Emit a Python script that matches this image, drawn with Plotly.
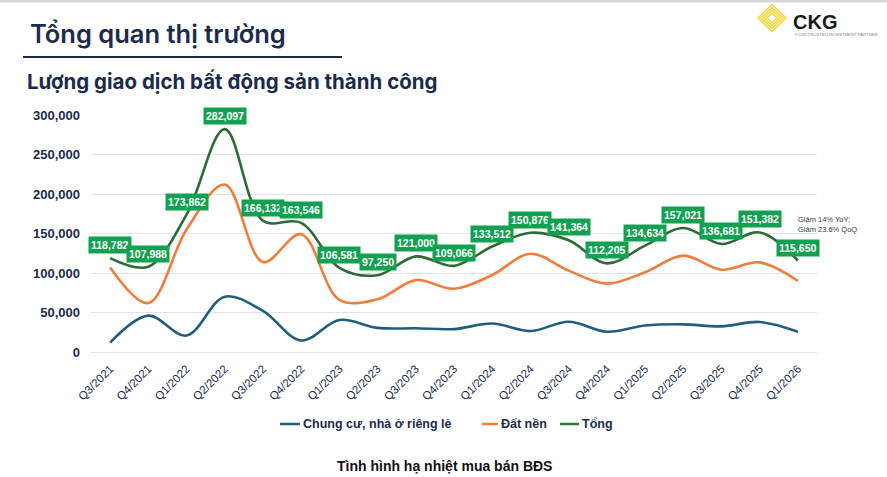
import plotly.graph_objects as go

quarters = ["Q3/2021", "Q4/2021", "Q1/2022", "Q2/2022", "Q3/2022", "Q4/2022",
            "Q1/2023", "Q2/2023", "Q3/2023", "Q4/2023", "Q1/2024", "Q2/2024",
            "Q3/2024", "Q4/2024", "Q1/2025", "Q2/2025", "Q3/2025", "Q4/2025", "Q1/2026"]

chung_cu = [11800, 46000, 20800, 70000, 52000, 14500, 40500, 30500, 30000, 29000,
            36000, 26500, 38300, 25700, 33600, 35000, 32500, 38000, 25700]

dat_nen = [107000, 62000, 155000, 212000, 114000, 149000, 66000, 66700, 91000, 80000,
           97500, 124400, 103000, 86500, 101000, 122000, 104200, 113400, 90000]

tong = [118782, 107988, 173862, 282097, 166132, 163546, 106581, 97250, 121000, 109066,
        133512, 150876, 141364, 112205, 134634, 157021, 136681, 151382, 115650]

y_ticks = [0, 50000, 100000, 150000, 200000, 250000, 300000]

series_names = ["Chung cư, nhà ở riêng lẻ", "Đất nền", "Tổng"]
colors = ["#215E7C", "#EE7E3A", "#2E6B33"]

W, H = 887, 477
L, R, T, B = 91, 70, 115, 125
PW, PH = W - L - R, H - T - B


def px(xp):
    return (xp - L) / PW


def py(yp):
    return (H - B - yp) / PH


NAVY = "#1C2B4D"
AX_FONT = "Liberation Sans, Arial, sans-serif"

fig = go.Figure()
for name, vals, col in zip(series_names, [chung_cu, dat_nen, tong], colors):
    fig.add_trace(go.Scatter(
        x=quarters, y=vals, name=name, mode="lines",
        line=dict(color=col, width=2.6, shape="spline", smoothing=1.0),
        showlegend=False, hoverinfo="x+y+name"))

annotations = []
for q, v in zip(quarters, tong):
    annotations.append(dict(
        x=q, y=v, xref="x", yref="y", text=f"{v:,}", showarrow=False,
        yshift=13, bgcolor="#12A150", borderpad=2,
        font=dict(family=AX_FONT, size=10.5, color="white", weight="bold")))

# titles
annotations.append(dict(x=px(28), y=py(33), xref="paper", yref="paper",
                        xanchor="left", yanchor="middle", showarrow=False,
                        text="Tổng quan thị trường",
                        font=dict(family="Inter, sans-serif", size=25.5, color=NAVY, weight=600)))
annotations.append(dict(x=px(25), y=py(82), xref="paper", yref="paper",
                        xanchor="left", yanchor="middle", showarrow=False,
                        text="Lượng giao dịch bất động sản thành công",
                        font=dict(family="Inter, sans-serif", size=20.5, color=NAVY, weight=700)))
# caption
annotations.append(dict(x=px(444), y=py(466), xref="paper", yref="paper",
                        xanchor="center", yanchor="middle", showarrow=False,
                        text="Tình hình hạ nhiệt mua bán BĐS",
                        font=dict(family=AX_FONT, size=14, color="#111111", weight="bold")))
# side note
annotations.append(dict(x=px(796), y=py(224), xref="paper", yref="paper",
                        xanchor="left", yanchor="middle", showarrow=False, align="left",
                        text="Giảm 14% YoY;<br>Giảm 23.6% QoQ",
                        font=dict(family="Liberation Sans, Arial, sans-serif", size=7.5, color="#3A3A3A")))

# manual legend
shapes = []
leg = [(280, 300, 301, series_names[0]),
       (482, 498, 499, series_names[1]),
       (560, 579, 580, series_names[2])]
leg_colors = ["#215E7C", "#EE7E3A", "#2E7D32"]
for (x0, x1, xt, name), lc in zip(leg, leg_colors):
    shapes.append(dict(type="line", xref="paper", yref="paper",
                       x0=px(x0), x1=px(x1), y0=py(424), y1=py(424),
                       line=dict(color=lc, width=2.5)))
    annotations.append(dict(x=px(xt), y=py(424), xref="paper", yref="paper",
                            xanchor="left", yanchor="middle", showarrow=False,
                            text=name,
                            font=dict(family=AX_FONT, size=12.5, color=NAVY, weight="bold")))

# title underline
shapes.append(dict(type="line", xref="paper", yref="paper",
                   x0=px(23), x1=px(342), y0=py(57), y1=py(57),
                   line=dict(color=NAVY, width=2)))
# top border
shapes.append(dict(type="rect", xref="paper", yref="paper",
                   x0=px(0), x1=px(887), y0=py(0), y1=py(2.5),
                   fillcolor="#D6D6D6", line=dict(width=0), layer="below"))

# logo: nested yellow diamonds
cx, cy = 772, 18
for i, r in enumerate([14, 11, 8, 5]):
    pts = [(cx, cy - r * 0.95), (cx + r, cy), (cx, cy + r * 0.95), (cx - r, cy)]
    path = "M " + " L ".join(f"{px(a)},{py(b)}" for a, b in pts) + " Z"
    shapes.append(dict(type="path", xref="paper", yref="paper", path=path,
                       line=dict(color="#F4D84A", width=1.6)))
annotations.append(dict(x=px(791), y=py(22), xref="paper", yref="paper",
                        xanchor="left", yanchor="middle", showarrow=False,
                        text="CKG",
                        font=dict(family=AX_FONT, size=20, color="#1A1A1A", weight="bold")))
annotations.append(dict(x=px(792), y=py(35), xref="paper", yref="paper",
                        xanchor="left", yanchor="middle", showarrow=False,
                        text="YOUR TRUSTED INVESTMENT PARTNER",
                        font=dict(family=AX_FONT, size=4.3, color="#888888")))

fig.update_layout(
    width=W, height=H,
    margin=dict(l=L, r=R, t=T, b=B, pad=0),
    paper_bgcolor="white", plot_bgcolor="white",
    showlegend=False,
    annotations=annotations, shapes=shapes,
    xaxis=dict(type="category", tickangle=-45, showgrid=False, showline=False,
               ticks="", ticklabelstandoff=7,
               tickfont=dict(family=AX_FONT, size=11.5, color=NAVY),
               range=[-0.5, len(quarters) - 0.5]),
    yaxis=dict(range=[0, 300000], tickvals=y_ticks,
               ticktext=[f"{v:,}" for v in y_ticks],
               showgrid=True, gridcolor="#E3E3E3", gridwidth=1,
               zeroline=True, zerolinecolor="#E3E3E3", zerolinewidth=1,
               showline=False, ticks="", ticklen=0, ticklabelstandoff=10,
               tickfont=dict(family=AX_FONT, size=13, color=NAVY, weight="bold")),
)
for tr in fig.data:
    tr.cliponaxis = False

fig.write_html("out.html")
